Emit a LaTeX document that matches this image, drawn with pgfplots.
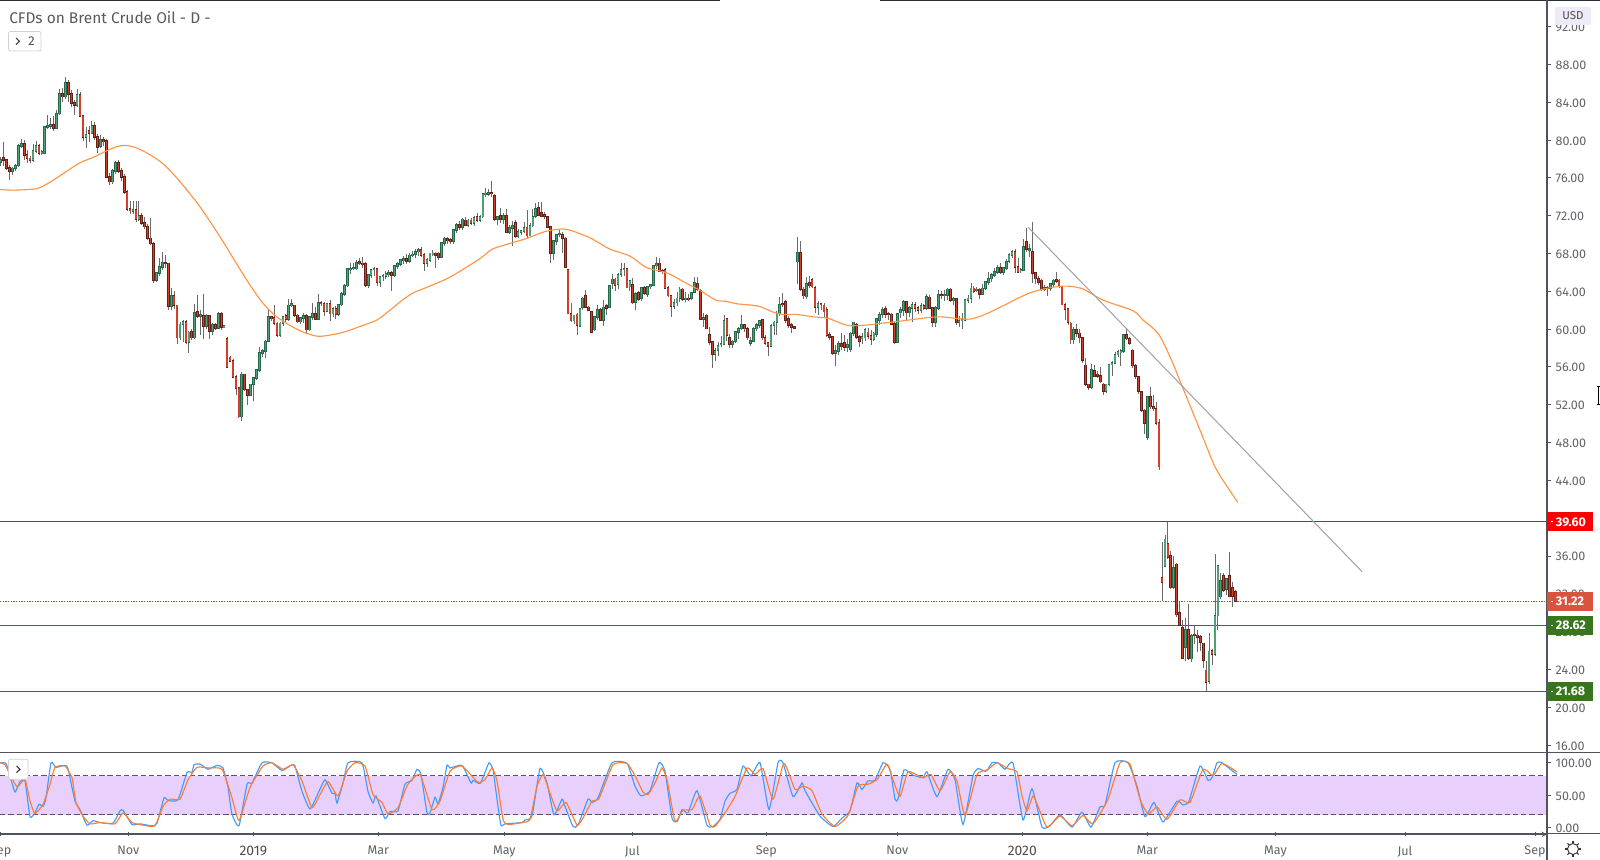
\documentclass[border=0pt]{standalone}
\usepackage{pgfplots}
\usepackage{pgfplotstable}
\usepackage{fontspec}
\setmainfont{Fira Sans}
\pgfplotsset{compat=1.18}

\definecolor{axisc}{HTML}{50535E}
\definecolor{labelc}{HTML}{5F6268}
\definecolor{wick}{HTML}{6A6A6A}
\definecolor{upfill}{HTML}{4FA077}
\definecolor{upedge}{HTML}{25684A}
\definecolor{downfill}{HTML}{D23E28}
\definecolor{downedge}{HTML}{671E14}
\definecolor{ma}{HTML}{FF9445}
\definecolor{trendc}{HTML}{A3A3B0}
\definecolor{lvlgreen}{HTML}{38761D}
\definecolor{lasttag}{HTML}{D9533F}
\definecolor{band}{HTML}{E9D0FC}
\definecolor{stochk}{HTML}{3D9CFF}
\definecolor{stochd}{HTML}{FF7B2E}
\definecolor{dashc}{HTML}{5A5060}
\definecolor{usdbg}{HTML}{EFEAF7}
\definecolor{topline}{HTML}{2A2E39}

% daily bars, one row per session: open high low close
\pgfplotstableread{
o h l c
77.7 78.2 77.3 77.9
78.1 79.8 77.3 77.9
77.87 78 76.8 77.06
77.06 77.4 75.8 76.68
76.68 77.2 76.3 77
77 77.5 76.7 77.3
77.3 79.6 77.2 79.4
79.4 80.1 79.2 79.6
79.6 80 77.9 78.4
78.4 78.9 77.6 78.05
78.05 78.3 77.6 77.9
77.9 79.6 77.7 78.85
78.85 79.9 78.6 79.35
79.35 79.6 78.4 78.65
78.65 78.9 78.4 78.7
78.65 81.5 78.5 81.4
81.4 82.6 81.2 81.5
81.5 82.3 81.2 81.6
81.6 82.5 81 81.3
81.3 83.2 81.3 82.8
82.8 85.4 82.7 84.9
84.9 85.5 84 84.6
84.6 86.7 84.3 86
86 86.3 84 84.9
84.9 85.3 83.5 83.9
83.9 84.2 82.7 83.7
83.7 85.4 83.5 84.8
84.8 85.1 82.4 82.55
82.55 82.6 79.9 80.3
80.3 81.4 79.2 80.5
81 81.5 79.8 80.7
80.7 82 80.6 81.5
81.5 81.9 80 80.3
80.3 80.6 78.6 79.3
79.4 80.5 79.2 80
80 80.3 79.4 79.9
79.9 80.1 76 76.1
76.1 76.5 75.2 75.6
75.6 76.9 75.4 76.7
76.7 77.8 76.4 77.6
77.6 77.9 76.5 76.75
76.75 77 75.7 76.1
76.1 76.4 74.3 74.5
74.5 74.7 72.5 72.7
72.7 73.6 72.2 72.55
72.5 73.5 72.2 72.65
72.65 73.6 71.3 71.6
71.6 73.5 71.4 72
72 72.3 71 71.2
71.2 71.9 70.6 70.85
70.85 71.1 69.4 69.6
69.6 71.8 68.9 69.05
69.05 69.2 64.9 65.2
65.2 65.9 65 65.9
65.9 67.5 65.6 66.6
66.6 68.2 66.3 67
67 67.8 66.5 66.95
66.95 67 62 62.45
62.45 64.4 62 63.5
63.5 64 62.1 62.5
62.5 62.6 58.4 59.1
59.1 60.7 58.9 60.5
60.5 61 58.6 60.8
60.8 61 58.4 58.65
58.65 59.8 57.5 59.65
59.7 60 58.8 59.1
59.1 62.7 59 61.75
61.85 63.6 61.2 61.4
61.4 62 59.4 61.5
61.4 63.7 59 60.3
60.3 61.6 60 61.4
61.4 61.5 59 59.8
59.8 60.6 59.4 60.45
60.45 60.6 59.9 60.15
60.15 61.8 60 61.65
61.65 61.8 59.9 60.25
60.25 60.35 60.2 60.3
59 59.2 55.9 56
57 57.2 56.5 56.65
56.65 56.8 54.9 54.95
54.95 55.1 53 53.75
53.75 53.8 50.6 50.75
50.75 55.5 50.3 55.2
55.2 55.3 53.5 53.6
53.6 53.7 52 53.05
53.05 54.2 52.9 54.15
54.15 54.9 52.4 54.8
54.8 55.8 54.6 55.65
55.65 58.1 55.5 57.45
57.45 57.9 57 57.65
57.65 58.9 56.9 58.7
58.7 62 58.7 61.3
61.3 61.4 60.9 61.15
61.15 62.5 60.4 60.6
60.6 60.7 59.2 59.35
59.35 60.7 59.2 60.6
60.6 61.4 60.3 61.3
61.4 61.6 60.6 61.1
61.1 63.2 60.9 62.5
62.5 63.2 62.3 62.7
62.5 62.6 61.3 61.45
61.45 61.6 60.6 60.8
60.8 61.3 60.5 61.15
61.15 61.7 60.6 61.4
61.4 61.6 59.5 59.95
59.95 61.4 59.8 61.25
61.25 62.8 61 61.65
61.65 62.3 61 61.1
61.1 63.7 61 62.8
62.8 63 62.4 62.7
62.7 62.9 61.4 61.95
61.95 62.8 61.8 62.65
62.65 63.1 60.9 61.65
61.65 62.3 61.3 62.1
62.1 62.4 61.1 61.55
61.55 62.7 61.4 62.6
62.6 63.9 62.4 63.7
63.7 64.8 63.5 64.6
64.6 66.5 64.5 66.35
66.35 67 65.8 66.4
66.4 67 66.2 66.45
66.4 67.3 66.2 67
67.1 67.5 66.8 66.95
66.95 67.6 66.5 66.9
66.9 67.1 64.5 64.7
64.7 65.8 64.4 65.7
65.7 66.4 65.4 66.3
66.3 66.6 65.6 66.4
66.4 66.5 64.6 64.95
64.95 65.6 64.5 65.55
65.55 65.8 65.1 65.65
65.65 66.2 65.3 65.8
65.8 66.3 65.5 65.95
65.95 66.2 64 65.7
65.7 66.7 65.5 66.65
66.65 67.1 66.4 66.9
66.9 67.4 66.7 67.3
67.3 67.7 66.9 67.4
67.4 67.9 66.9 67.2
67.2 68 67 67.8
67.8 68.3 67.6 67.9
67.9 68.5 67.5 68.2
68.2 68.6 67.7 68.35
68.35 68.7 67.6 67.85
67.85 68 66.2 66.95
66.95 67.5 66.6 67.3
67.3 68.1 67.1 68
67.95 68.4 67.7 68
68 68.2 66.5 67.8
68 68.2 67.3 67.6
67.6 69.2 67.5 69.1
69.1 69.7 68.8 69.55
69.55 69.7 69 69.4
69.4 69.6 69 69.3
69.3 70.6 69 70.5
70.5 71.2 70.2 71.05
71.05 71.4 70.5 70.75
70.75 71.8 70.5 71.6
71.5 71.9 70.9 71
71 71.7 70.8 71.5
71.5 71.8 71 71.25
71.25 72 70.9 71.8
71.9 72.3 71.3 71.5
71.5 72.1 71.3 71.9
71.9 74.4 71.8 74.3
74.3 74.9 74 74.35
74.3 74.8 74.1 74.45
74.4 75.65 74 74.35
74.1 74.3 71.4 71.6
71.6 72 71 71.9
71.95 72.8 71.2 71.6
71.6 72.3 71.1 72
72 72.7 70.2 70.3
70.3 71 70.1 70.7
70.7 71.4 68.8 70.95
71.2 71.5 69.6 69.8
69.8 70.6 69.6 70.3
70.3 70.5 70 70.35
70.35 71.3 70.2 70.7
70.75 72.6 69.6 69.9
69.9 71.2 69.8 70.95
70.95 72.7 70.8 71.9
72 73.3 71.8 72.75
72.85 73.4 72 72.05
72.3 73.4 72 72
72.1 72.4 71.7 72
71.9 72 70.7 70.8
70.85 70.9 67 68
68 69.4 67.3 69.3
69.3 70.1 68.9 70
70 70.5 69.7 70.1
70 70.3 68 69.65
69.6 69.7 66.5 66.6
66.25 66.3 61.6 61.65
61.65 62.8 60.7 60.9
60.9 61.5 60.5 61.45
61.55 61.7 59.4 60.45
60.35 62.2 60.2 62.15
62.35 63.4 62 63.25
63.5 64.1 62.2 62.3
62.3 62.4 61.9 62.05
61.85 61.9 59.6 59.7
59.95 61.4 59.8 61.3
61.3 62.6 61 62.05
62 62.2 60.9 60.95
60.95 63.1 60.3 62.3
62.45 62.7 61.5 62.2
62.35 64.7 62.2 64.6
64.9 65.8 64.2 65.25
65.25 65.4 64 64.7
64.8 65.9 64.2 65.75
65.8 67 65.5 66.3
66.3 67 65.6 66.4
66.4 66.5 64.3 64.4
64.5 65.2 64 65.1
64.7 65.4 62.7 62.8
62.9 63.9 62 63.75
63.85 64 63 63.15
63.25 64.5 63 64.4
64.4 64.6 63.6 63.85
63.75 64.6 63.4 64.5
64.5 64.8 64.2 64.7
64.7 66.8 64.6 66.7
66.75 67.6 66.4 66.85
66.95 67.5 66 66.15
66.15 66.4 65.8 66.1
66.3 66.5 64.2 64.35
64.4 64.6 63.4 63.55
63.55 63.6 61.3 62.45
62.45 63.2 62.1 62.8
62.8 63.9 62.4 63.25
63.25 64.5 62.9 64.2
64.2 64.3 63 63.15
63.15 63.9 62.9 63.25
63.25 63.7 63 63.2
63.3 63.9 63.1 63.8
63.9 65.5 63.8 64.9
64.8 65.5 64 64.2
64.1 64.2 61 61.1
61.1 61.7 60.2 61.2
61.45 61.6 60 60.05
59.35 60.2 58.3 58.6
58.65 58.7 55.9 57.4
57.4 58 56.6 57.7
57.75 58.6 57.2 58.25
58.4 59.3 58.1 58.45
58.4 61.5 58.3 60.9
61.05 61.1 58.7 59.35
59.1 59.5 58 58.4
58.4 58.9 58 58.7
58.7 59.8 58.5 59.7
59.7 60.2 59 60.05
60.15 61.5 59.9 60.4
60.4 60.5 59.7 60.05
60.05 60.2 58.9 59.1
58.55 59.2 58.2 58.75
58.75 60.2 58.6 60.05
60.05 60.6 59.8 60.4
60.4 61 60.1 60.9
60.95 61.1 58.9 59.1
59.1 59.4 58.3 58.55
58.5 58.6 57.2 58.25
58.25 60.5 58.1 60.35
60.4 60.9 59.4 60.7
60.75 61.9 59.4 61.65
61.65 63.4 61.4 62.6
62.7 63.8 62.3 62.65
62.9 63.1 60.6 61
61.1 61.4 60.1 60.45
60.4 60.6 59.6 60.2
60.2 60.3 60 60.15
67.15 69.7 64.8 68.1
68.1 69.3 64 64.2
64.2 64.5 63.2 63.55
63.45 65.5 63.2 64.8
64.9 65.6 64.3 64.6
65.2 65.4 64.3 64.5
64.4 64.6 61.7 62.3
62.35 63 61.5 62.65
62.65 62.8 62 62.6
62.5 62.8 61.2 61.85
62 62.3 59.2 59.4
59.4 59.7 58.9 59.2
59.2 59.3 57.3 57.5
57.5 58.3 56.1 57.65
57.65 58.7 57.3 58.45
58.4 59.6 57.8 58.2
58.5 59.4 57.7 58.1
58.1 59 57.6 58.3
57.85 59.7 57.6 59.55
59.55 60.8 59.3 60.7
60.4 60.6 59 59.2
59.2 59.4 58.1 58.75
59 59.6 58.4 59.15
59.1 60.1 58.7 59.9
59.65 60.1 59 59.3
59.25 59.9 58.3 58.95
58.95 59.7 58.7 59.55
59.45 61.2 59.2 61.1
61 61.8 60.4 61.5
61.55 62.3 61.2 62
62.1 62.4 61.2 61.55
61.6 61.8 61 61.55
61.55 61.7 60.4 60.55
60.55 60.7 58.4 58.65
58.65 61.7 58.5 61.65
61.75 62.3 61.2 62.05
62.05 63.1 61.4 62.9
62.9 63 60.9 61.75
61.75 62.4 61.3 62.25
62.25 62.9 60.7 62.6
62.6 62.9 61.8 62.25
62.25 62.4 61.6 62
62 62.8 61.7 62.45
62.45 62.7 62 62.25
62.25 63.7 62 63.4
63.35 63.6 62.1 62.25
62.2 62.3 60.2 60.7
60.7 62.4 60.2 62.25
62.25 64.1 62 63.65
63.65 64 63.2 63.6
63.6 64.1 63 63.65
63.6 64.3 63.1 64.2
64.2 64.3 62.9 63.05
63.05 63.4 62.6 63.2
63.15 63.3 60.4 60.75
60.75 61.4 60.2 60.9
60.9 61.7 60 61
61 63.2 60.9 63.05
63.05 63.6 62.8 63.25
63.25 64.9 62.8 64.3
64.3 64.6 63.8 64.05
64.15 64.5 63.9 64.2
64.2 64.4 63.2 63.75
63.75 64.8 63.7 64.3
64.3 65 64.1 64.95
64.95 66 64.7 65.35
65.35 65.9 65 65.75
65.75 66.5 65.5 66.05
66.05 66.8 65.8 66.5
66.5 67 65.8 66
66 66.6 65.7 66.5
66.5 67.4 66.3 67.15
67.2 68 67 67.85
67.85 68.4 67.5 68.2
68.2 68.5 65.9 66.6
66.6 67.5 65.9 66
66.2 66.5 65.9 66.3
66.25 69.5 66.1 68.65
69.25 70.7 68.2 68.45
68.4 69 67.6 68.45
68.2 71.3 64.9 65.9
65.9 66 64.8 65.35
65.35 65.6 64.7 65
65.15 65.3 64 64.2
64.2 64.7 64 64.4
64.35 64.6 63.5 64.3
64.35 64.9 64 64.75
64.75 65.3 64.5 65.15
65.2 66 64.9 65.1
65.15 65.3 64.3 64.5
64.5 64.6 62.5 62.6
62.6 62.8 61 62.1
62.1 62.2 60.4 60.7
60.6 60.8 58.4 58.9
58.9 60.2 58.4 59.95
59.95 60.5 59.2 59.55
59.55 60 58.5 59.1
59.1 59.2 56.4 56.7
56.15 56.9 54 54.15
54.15 54.2 53.6 53.85
53.85 56.3 53.7 55.65
55.6 56.2 54.9 55.05
55.2 55.6 54.8 55.05
55.05 56 54.3 54.45
54.15 54.3 53 53.4
53.4 54.2 53.2 54.15
54.15 56.3 54 56.25
56.25 56.6 55 56.45
56.45 57.6 56.3 57.3
57.3 57.8 57.1 57.55
57.55 57.9 56.1 57.65
57.65 59.4 57.5 59.35
59.35 60 58.9 59
59 59.2 58.3 58.5
57.75 57.9 55.9 56.15
56.15 56.3 54.7 55
54.95 55 53.1 53.4
53.4 53.5 51.2 51.4
51.4 51.6 48.9 50.1
48.6 52.9 48.3 52.8
52.8 53.85 51.5 51.8
51.8 53 51.3 51.6
51.6 52.3 49.9 50.05
50.05 50.5 45.1 45.45
33.7 37.45 31.2 33.27
34.95 38.2 34.8 37.75
37.3 39.6 35.7 35.85
36 36.5 32.5 32.65
32.7 36 32.5 34.7
35.1 35.3 29.5 29.8
30 31.2 28.6 28.7
28.4 29.2 25.1 25.2
26.4 29.4 24.9 28.2
28.2 30.9 25 25.2
25.15 27.7 24.8 27.55
27.7 28.6 26.7 27.6
27.6 28.2 25.8 27.45
27.4 27.6 25.9 26.9
26.75 26.8 24.1 25
23.9 24.9 21.7 22.7
22.8 27.9 22.5 25.9
26 26.2 24.5 25.6
25.65 36.2 25.4 29.7
29.7 35 28.2 34.95
31.7 34.2 31.5 33.35
33.85 34.2 32.2 32.35
32.5 33.7 31.9 33.55
33.85 36.4 31.7 31.8
32.65 33.2 30.6 31.8
32.2 32.4 31.1 31.22
}\candles

% moving average, x is the position along the time axis
\pgfplotstableread{
x y
0 74.77
13 74.7
33 74.8
41.7 75.05
55 75.87
66.7 76.7
80 77.6
93 78.16
106.7 78.86
116.7 79.3
124 79.43
133 79.3
146.7 78.65
163 77.5
180 75.6
200 72.94
220 69.77
234.3 67.3
250 64.66
263.3 62.7
276.7 61.3
296.7 60
313.3 59.33
323 59.26
343 59.65
363 60.4
376.7 60.95
390 62
403.3 63.14
413.3 63.85
420 64.13
440 65
453.3 65.7
480 67.46
491.7 68.43
506.7 68.96
526.7 69.6
546.7 70.37
563.3 70.6
570 70.47
590 69.66
610 68.46
630 67.72
646.7 66.5
666.7 65.96
686.7 64.83
700 64.1
715.7 63.07
726.7 62.93
736.7 62.68
758.3 62.43
773 61.8
783 61.55
796.7 61.55
813.3 61.3
828.3 61.13
848 60.39
870 60.46
880 60.6
903.3 60.88
923.3 61.16
940 61.3
956.7 61.13
970 61.06
983.3 61.48
1000 62.3
1016.7 63.2
1031.7 63.9
1050 64.38
1066.7 64.55
1083 64.24
1103 63.07
1133 61.94
1143 60.96
1158 59.55
1170 57.08
1183 53.73
1200 49.32
1215 45.44
1229 43.05
1237.7 41.69
}\matable

\pgfplotstableread{
x y
0 100
6 99
10 80
15 55
20 71
25 72
30 17
35 23
39 36
43 33
46 46
51 100
56 93
65 96
68 91
75 41
80 28
87 4
93 11
100 8
113 7
120 26
123 27
132 5
140 6
152 3
157 7
164 46
168 42
178 43
187 85
192 85
194 97
200 98
208 90
217 96
223 92
228 62
232 21
239 3
247 67
252 69
262 100
272 100
282 88
292 97
295 95
302 56
310 29
319 56
325 74
332 53
335 53
337 38
343 69
348 100
362 100
368 56
373 38
376 49
385 14
390 25
398 26
405 67
412 73
417 90
421 82
427 23
430 23
435 47
438 37
443 62
447 96
450 92
462 96
471 69
473 73
480 68
485 85
489 100
493 90
497 44
501 4
505 6
522 8
525 12
532 18
540 91
547 69
554 20
562 44
565 33
573 2
578 4
588 44
592 39
598 46
612 100
627 99
635 64
641 49
650 57
659 100
665 87
672 15
677 9
682 28
688 23
697 57
707 4
713 2
720 13
725 41
730 53
737 59
743 95
751 80
760 100
769 28
778 100
783 100
793 48
802 69
805 57
820 18
833 2
842 15
850 26
857 69
862 59
868 72
875 73
883 100
890 90
895 44
898 44
904 89
913 81
923 77
927 86
937 48
948 90
955 74
963 5
973 80
978 91
985 87
987 88
992 100
998 100
1005 90
1013 100
1023 12
1032 60
1042 1
1050 3
1060 20
1072 1
1082 24
1091 1
1100 32
1105 35
1115 100
1128 100
1137 64
1145 17
1154 39
1163 9
1177 41
1183 35
1189 41
1200 95
1208 73
1212 77
1217 100
1222 100
1237 82
}\stochk

\pgfplotstableread{
x y
0 100
5 97
10 82
17 63
25 74
30 41
35 22
43 36
50 67
55 93
65 95
72 77
76 39
83 18
90 6
100 8
115 6
123 23
132 8
143 4
155 3
163 33
170 44
180 44
188 74
197 93
208 92
222 90
232 46
239 11
250 62
263 95
272 100
283 90
293 97
302 72
312 31
320 51
328 71
338 49
347 87
355 100
365 95
373 51
382 39
388 21
398 31
408 67
420 82
432 28
440 41
450 87
462 95
477 71
480 70
485 74
492 92
497 72
503 13
508 5
522 8
530 13
537 64
543 82
548 62
557 26
566 39
577 4
583 15
592 41
599 45
613 97
627 99
635 80
643 55
648 51
655 69
662 92
667 74
675 10
683 27
692 28
700 49
710 4
715 2
725 23
735 48
747 92
755 82
763 91
773 44
784 99
795 59
803 64
812 57
822 21
835 2
848 19
858 64
868 67
877 74
887 98
893 74
900 48
908 86
923 77
931 82
940 57
950 86
957 72
965 19
977 82
987 89
997 100
1008 91
1017 86
1022 49
1027 26
1033 49
1038 33
1047 1
1060 18
1072 3
1083 19
1093 6
1108 44
1120 100
1130 98
1140 44
1148 21
1157 32
1167 13
1180 43
1190 39
1203 90
1213 80
1222 99
1237 86
}\stochd

\pgfplotsset{
  chartaxis/.style={
    scale only axis, width=1160.25pt,
    xmin=0, xmax=1547,
    axis y line=right, axis line style={-,color=axisc,line width=0.8pt},
    tick style={color=axisc,line width=0.7pt},
    major tick length=3pt, tick align=outside,
    tick label style={color=labelc,font=\fontsize{9.4}{11}\selectfont},
    yticklabel style={yshift=-0.6pt,/pgf/number format/.cd,fixed,fixed zerofill,precision=2,assume math mode=true},
    xticklabel style={yshift=-3.6pt},
  },
  pricepane/.style={scale only axis, width=1160.25pt, xmin=0, xmax=1547,
    at={(0,113.8)}, anchor=south west, height=563.5pt, ymin=15.22, ymax=94.7},
  barbits/.style n args={2}{forget plot,draw=none,mark=none,
    error bars/.cd,y dir=both,y explicit,error mark=none,
    error bar style={line width=#1,color=#2}},
}
% error bars are heavy on TeX memory: each layer gets its own hidden axis,
% and a bar of the other colour is pushed out of range so that it is dropped
% #1 test, #2 padding, #3 width, #4 colour
\newcommand\bodies[4]{%
  \begin{axis}[pricepane,hide axis]
  \addplot[restrict y to domain=0:200,barbits={#3}{#4}]
    table[x expr=0.7+2.94*\coordindex,
      y expr={ifthenelse(#1,(\thisrow{o}+\thisrow{c})/2,-1000)},
      y error expr={abs(\thisrow{c}-\thisrow{o})/2+#2}] {\candles};
  \end{axis}}
\newcommand\pricetag[3]{%
  \fill[#2] ([yshift=7.1pt]#1) rectangle ([xshift=34.5pt,yshift=-7.1pt]#1);
  \draw[white,line width=0.7pt] ([xshift=2.8pt]#1) -- ([xshift=4.3pt]#1);
  \node[anchor=west,inner sep=0pt,text=white,font=\fontsize{9.4}{11}\selectfont\bfseries] at ([xshift=6.5pt]#1) {#3};}

\begin{document}
\begin{tikzpicture}[x=0.75pt,y=0.75pt]
\path[use as bounding box] (0,0) rectangle (1600,860);

\begin{axis}[chartaxis, at={(0,113.8)}, anchor=south west, height=563.5pt,
    ymin=15.22, ymax=94.7, axis x line=none, xtick=\empty,
    ytick={16,20,...,92}]
  \addplot[forget plot,no marks,color=red,line width=0.8pt] coordinates {(0,39.6) (1547,39.6)};
  \addplot[forget plot,no marks,color=lvlgreen,line width=0.8pt] coordinates {(0,28.62) (1547,28.62)};
  \addplot[forget plot,no marks,color=lvlgreen,line width=0.8pt] coordinates {(0,21.68) (1547,21.68)};
  \addplot[forget plot,no marks,color=downfill,line width=0.7pt,dash pattern=on 1pt off 1pt] coordinates {(0,31.22) (1547,31.22)};
  \coordinate (t1) at (axis cs:1547,39.6);
  \coordinate (t2) at (axis cs:1547,31.22);
  \coordinate (t3) at (axis cs:1547,28.62);
  \coordinate (t4) at (axis cs:1547,21.68);
\end{axis}

\begin{axis}[pricepane,hide axis]
  \addplot[barbits={0.6pt}{wick}]
    table[x expr=0.7+2.94*\coordindex,
      y expr={(\thisrow{h}+\thisrow{l})/2},
      y error expr={(\thisrow{h}-\thisrow{l})/2}] {\candles};
\end{axis}
\bodies{\thisrow{c}>=\thisrow{o}}{0.09}{2pt}{upedge}
\bodies{\thisrow{c}<\thisrow{o}}{0.09}{2pt}{downedge}
\bodies{\thisrow{c}>=\thisrow{o}}{0}{1pt}{upfill}
\bodies{\thisrow{c}<\thisrow{o}}{0}{1pt}{downfill}

\begin{axis}[pricepane,hide axis]
  \addplot[no marks,smooth,tension=0.5,color=ma,line width=0.85pt] table[x=x,y=y] {\matable};
  \addplot[no marks,color=trendc,line width=0.8pt] coordinates {(1028.3,70.76) (1362,34.35)};
\end{axis}

\begin{axis}[chartaxis, at={(0,39.45)}, anchor=south west, height=60.75pt,
    ymin=-10.15, ymax=114.5, axis x line=bottom,
    xtick={0.7,128.3,253.3,378.3,504.3,632.3,766.3,897.3,1022.3,1147.3,1275.5,1405,1535},
    xticklabels={Sep,Nov,{\fontsize{10.4}{11}\selectfont\color{black!70}2019},Mar,May,Jul,Sep,Nov,{\fontsize{10.4}{11}\selectfont\color{black!70}2020},Mar,May,Jul,Sep},
    ytick={0,50,100}]
  \addplot[forget plot,fill=band,draw=none] coordinates {(0,20) (1547,20) (1547,80) (0,80)} -- cycle;
  \addplot[forget plot,no marks,color=dashc,line width=0.7pt,dash pattern=on 4pt off 2.2pt] coordinates {(0,80) (1547,80)};
  \addplot[forget plot,no marks,color=dashc,line width=0.7pt,dash pattern=on 4pt off 2.2pt] coordinates {(0,20) (1547,20)};
  \addplot[no marks,smooth,tension=0.3,color=stochk,line width=0.85pt] table[x=x,y=y] {\stochk};
  \addplot[no marks,smooth,tension=0.3,color=stochd,line width=0.85pt] table[x=x,y=y] {\stochd};
\end{axis}

% frame lines of the panes
\draw[color=topline,line width=1pt] (0,859.4) -- (720,859.4);
\draw[color=topline,line width=1pt] (880,859.4) -- (1600,859.4);
\draw[color=axisc,line width=0.8pt] (0,107.7) -- (1600,107.7);
\draw[color=axisc,line width=0.8pt] (0,26.7) -- (1600,26.7);
\draw[color=axisc,line width=0.8pt] (1547,0) -- (1547,860);

\pricetag{t1}{red}{39.60}
\pricetag{t2}{lasttag}{31.22}
\pricetag{t3}{lvlgreen}{28.62}
\pricetag{t4}{lvlgreen}{21.68}

% currency badge
\fill[usdbg,rounded corners=1.5pt] (1555,835) rectangle (1591,853);
\node[text=black!70,font=\fontsize{8.6}{10}\selectfont] at (1573,844) {USD};

% title and the two small buttons
\node[anchor=west,inner sep=0pt,text=black!65,font=\fontsize{11.6}{13}\selectfont] at (9,842.3) {CFDs on Brent Crude Oil - D -};
\draw[black!18,fill=white,rounded corners=1.5pt,line width=0.6pt] (8.5,809) rectangle (41,828.5);
\draw[black!75,line width=0.8pt] (16,822) -- (19.5,818.7) -- (16,815.4);
\node[text=black!70,font=\fontsize{9.6}{11}\selectfont] at (31.5,818.7) {2};
\draw[black!18,fill=white,rounded corners=1.5pt,line width=0.6pt] (8.5,80.7) rectangle (28,100.7);
\draw[black!80,line width=0.8pt] (16.5,94) -- (20,90.7) -- (16.5,87.4);

% settings gear
\draw[black!80,line width=0.7pt] (1573,11) circle (5.5);
\foreach \a in {0,45,...,315}
  \draw[black!80,line width=0.8pt] (1573,11) ++(\a:5.5) -- ++(\a:2.4);

% pointer at the right edge
\draw[black,line width=0.6pt] (1597,474) -- (1600,474) (1597,456) -- (1600,456) (1598.5,456) -- (1598.5,474);
\end{tikzpicture}
\end{document}
